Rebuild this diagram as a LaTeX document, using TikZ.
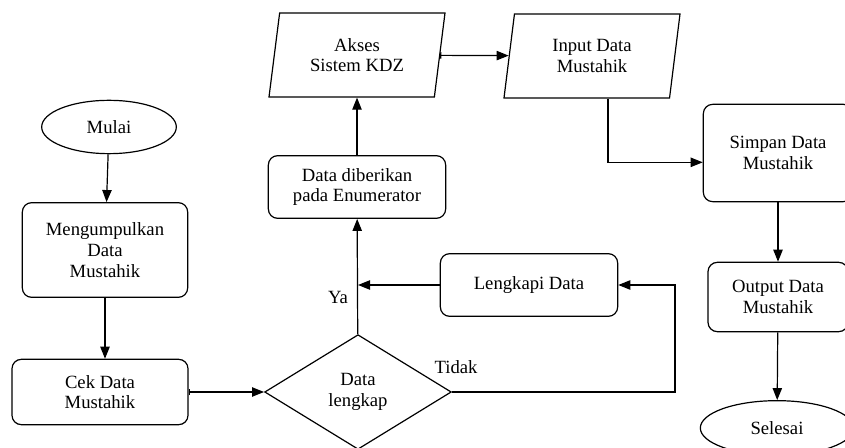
\documentclass[tikz,border=0pt]{standalone}
\usepackage{fontspec}
\setmainfont{Liberation Serif}
\usetikzlibrary{arrows, arrows.meta, shapes, positioning}

\begin{document}
\begin{tikzpicture}[x=0.75pt, y=-0.75pt, >={Triangle[length=9pt, width=7pt]}, line width=0.9pt,
    font=\rmfamily\fontsize{14pt}{15.5pt}\selectfont,
    proses/.style={draw, rounded corners=7pt, align=center},
    terminal/.style={draw, ellipse, align=center},
    io/.style={draw, trapezium, trapezium left angle=76, trapezium right angle=104,
        trapezium stretches body, align=center},
    keputusan/.style={draw, diamond, aspect=1.6, align=center}]
            \useasboundingbox (0,0) rectangle (845,448);

            \node[terminal, minimum width=101pt, minimum height=40pt] (mulai) at (109,127) {Mulai};
            \node[proses, minimum width=124pt, minimum height=71pt] (kumpul) at (105,250) {Mengumpulkan\\Data\\Mustahik};
            \node[proses, minimum width=132pt, minimum height=49pt] (cek) at (100,392) {Cek Data\\Mustahik};
            \node[keputusan, minimum width=140pt, minimum height=86pt] (lengkap) at (358,392) {Data\\lengkap};
            \node[proses, minimum width=133pt, minimum height=47pt] (lengkapi) at (529,285) {Lengkapi Data};
            \node[proses, minimum width=133pt, minimum height=47pt] (beri) at (357,187) {Data diberikan\\pada Enumerator};
            \node[io, minimum width=132pt, minimum height=63pt] (akses) at (357,55) {Akses\\Sistem KDZ};
            \node[io, minimum width=132pt, minimum height=63pt] (input) at (592,56) {Input Data\\Mustahik};
            \node[proses, minimum width=112pt, minimum height=73pt] (simpan) at (778,153) {Simpan Data\\Mustahik};
            \node[proses, minimum width=105pt, minimum height=52pt] (output) at (778,297) {Output Data\\Mustahik};
            \node[terminal, minimum width=115pt, minimum height=41pt] (selesai) at (777,428) {Selesai};

            \node (ya) at (338,297) {Ya};
            \node (tidak) at (456,367) {Tidak};
            \coordinate (belok) at (675,392);

            \draw[->] (mulai) -- (kumpul);
            \draw[->] (kumpul) -- (kumpul |- cek.north);
            \draw[{Bar[width=5pt]}->] (cek) -- (lengkap);
            \draw[->] (lengkap) -- (beri);
            \draw[->] (lengkapi) -- (lengkapi -| lengkap.north);
            \draw[->] (lengkap.east) -- (belok) |- (lengkapi);
            \draw[->] (beri) -- (akses);
            \draw[{Bar[width=5pt]}->] (akses) -- (input);
            \draw[->] ([xshift=12pt]input.south) |- ([yshift=-7pt]simpan.west);
            \draw[->] (simpan) -- (output);
            \draw[->] (output) -- (selesai);
        \end{tikzpicture}
\end{document}
